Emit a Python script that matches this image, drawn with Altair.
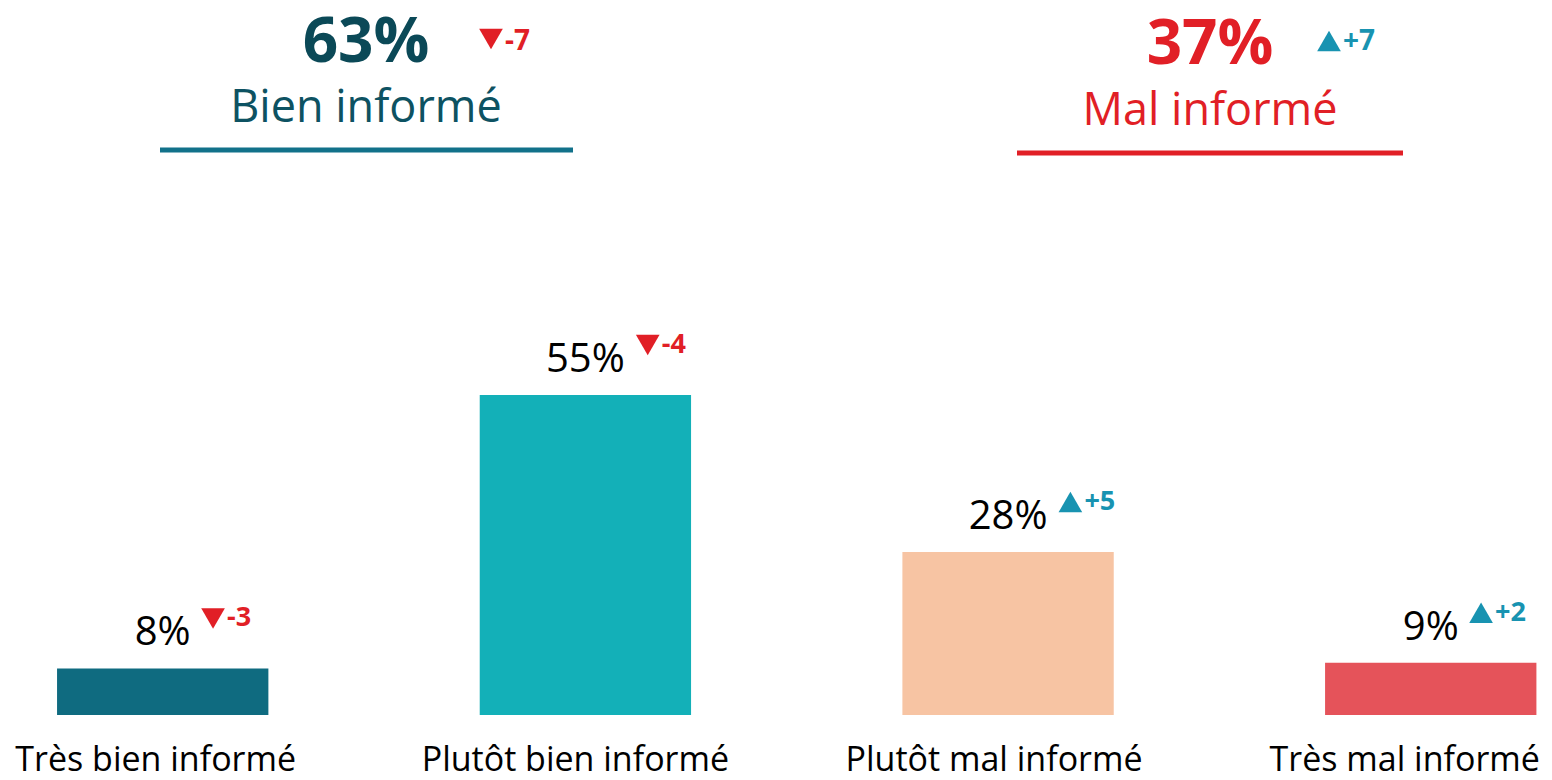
import altair as alt
import pandas as pd

# ---------------- data ----------------
categories = ["Très bien informé", "Plutôt bien informé", "Plutôt mal informé", "Très mal informé"]
values = [8, 55, 28, 9]
deltas = [-3, -4, 5, 2]

groups = ["Bien informé", "Mal informé"]
group_totals = [63, 37]
group_deltas = [-7, 7]

# ---------------- styles ----------------
FONT = "Open Sans"
bar_colors = ["#0f6b80", "#13b0b8", "#f7c4a3", "#e5535a"]
RED = "#e11f26"
TEAL = "#1893b1"
group_num_colors = ["#0b4957", RED]
group_lab_colors = ["#0d5262", RED]
group_line_colors = ["#11718a", RED]

M = 8  # page margin
W, H = 1536, 707
BAR_HALF = 106
label_shifts = [-7, -10, -14, -26]  # horizontal nudges of the category labels (px)

# header layout (page pixels)
HEAD = [
    dict(cx=366, num_base=62, lab_base=122, lx=(160, 573), ly=150, tri=(491, 39), dt=(505, 50)),
    dict(cx=1210, num_base=64, lab_base=125, lx=(1017, 1403), ly=153, tri=(1329, 41), dt=(1343, 50)),
]

df = pd.DataFrame({"cat": categories, "value": values, "delta": deltas})

cats_js = "[" + ",".join("'" + c + "'" for c in categories) + "]"
shifts_js = "[" + ",".join(str(s) for s in label_shifts) + "]"

base = alt.Chart(df).transform_calculate(
    label="datum.value + '%'",
    dtext="(datum.delta > 0 ? '+' : '') + datum.delta",
    shp="datum.delta < 0 ? 'triangle-down' : 'triangle-up'",
    dcolor=f"datum.delta < 0 ? '{RED}' : '{TEAL}'",
    toff=f"{BAR_HALF} + 26 + 12 * length(datum.value + '%')",
).transform_calculate(
    doff="datum.toff + 14"
).encode(
    x=alt.X(
        "cat:N",
        sort=categories,
        scale=alt.Scale(paddingInner=0.5, paddingOuter=0.067, align=0.866),
        axis=alt.Axis(
            title=None, domain=False, ticks=False, tickSize=0, grid=False,
            labelFontSize=34, labelFont=FONT, labelColor="black", labelLimit=0,
            labelPadding=55, labelBaseline="alphabetic", labelAngle=0,
            labelOffset={"expr": f"{shifts_js}[indexof({cats_js}, datum.value)]"},
        ),
    )
)

y = alt.Y("value:Q", scale=alt.Scale(domain=[0, 121.5]), axis=None)

bars = base.mark_bar().encode(
    y=y,
    color=alt.Color("cat:N", scale=alt.Scale(domain=categories, range=bar_colors), legend=None),
)

labels = base.mark_text(font=FONT, fontSize=40, baseline="alphabetic", dy=-23, color="black").encode(
    y=y, text="label:N"
)

tris = base.mark_point(filled=True, size=560, opacity=1, yOffset=-50, strokeWidth=0).encode(
    y=y,
    xOffset=alt.XOffset("toff:Q", scale=None),
    shape=alt.Shape("shp:N", scale=None),
    fill=alt.Fill("dcolor:N", scale=None),
)

dtexts = base.mark_text(font=FONT, fontSize=27, fontWeight="bold", align="left",
                        baseline="alphabetic", dy=-42).encode(
    y=y,
    xOffset=alt.XOffset("doff:Q", scale=None),
    text="dtext:N",
    fill=alt.Fill("dcolor:N", scale=None),
)

layers = [bars, labels, tris, dtexts]

for i, g in enumerate(groups):
    L = HEAD[i]
    gdf = pd.DataFrame({"group": [g], "total": [group_totals[i]], "delta": [group_deltas[i]]})
    gb = alt.Chart(gdf).transform_calculate(
        num="datum.total + '%'",
        dtext="(datum.delta > 0 ? '+' : '') + datum.delta",
        shp="datum.delta < 0 ? 'triangle-down' : 'triangle-up'",
        dcolor=f"datum.delta < 0 ? '{RED}' : '{TEAL}'",
    )
    layers.append(gb.mark_text(font=FONT, fontSize=62, fontWeight="bold", baseline="alphabetic",
                               color=group_num_colors[i]).encode(
        x=alt.value(L["cx"] - M), y=alt.value(L["num_base"] - M), text="num:N"))
    layers.append(gb.mark_text(font=FONT, fontSize=45, baseline="alphabetic",
                               color=group_lab_colors[i]).encode(
        x=alt.value(L["cx"] - M), y=alt.value(L["lab_base"] - M), text="group:N"))
    layers.append(gb.mark_rule(strokeWidth=5, color=group_line_colors[i]).encode(
        x=alt.value(L["lx"][0] - M), x2=alt.value(L["lx"][1] - M), y=alt.value(L["ly"] - M)))
    layers.append(gb.mark_point(filled=True, size=560, opacity=1, strokeWidth=0).encode(
        x=alt.value(L["tri"][0] - M), y=alt.value(L["tri"][1] - M),
        shape=alt.Shape("shp:N", scale=None), fill=alt.Fill("dcolor:N", scale=None)))
    layers.append(gb.mark_text(font=FONT, fontSize=28, fontWeight="bold", align="left",
                               baseline="alphabetic").encode(
        x=alt.value(L["dt"][0] - M), y=alt.value(L["dt"][1] - M), text="dtext:N",
        fill=alt.Fill("dcolor:N", scale=None)))

chart = alt.layer(*layers).properties(
    width=W, height=H,
    padding={"left": 0, "top": 0, "right": 0, "bottom": 65},
    autosize=alt.AutoSizeParams(type="none"),
    background="white",
).configure_view(stroke=None)

chart.save("out.html", embed_options={"renderer": "svg", "actions": False})
